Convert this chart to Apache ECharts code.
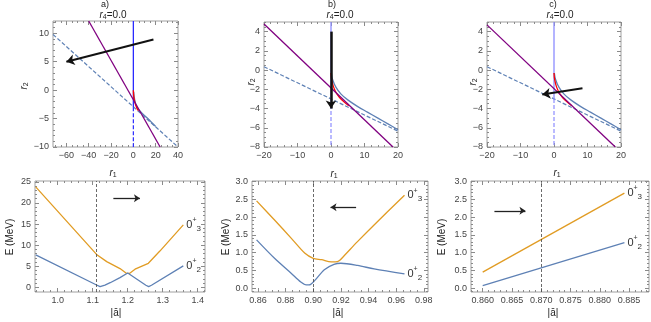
<!DOCTYPE html>
<html>
<head>
<meta charset="utf-8">
<script src="https://cdn.jsdelivr.net/npm/echarts@6/dist/echarts.min.js"></script>
<style>
html, body { margin: 0; padding: 0; background: #fff; }
#chart { width: 651px; height: 322px; }
</style>
</head>
<body>
<div id="chart"></div>
<script>
// ---- top row: r1 / r2 plane ----
var purpleA = [[-40, 12.17], [24, -10]];
var dashA = [[-72, 9.8], [40, -10]];
var vSolidA = [[0, 12.17], [0, -3]];
var vDashA = [[0, -3], [0, -10]];
var curveA = [[0.3, -0.3], [1.5, -2], [4, -3.2], [8, -4.1], [12, -4.8], [16, -5.6], [20, -6.4]];
var redA = [[0, 0], [0.3, -1], [1.2, -2], [2.8, -3], [4.5, -3.6]];
var arrowA = [[18, 8.9], [-60, 5.0]];

var purpleB = [[-20, 4.8], [18.5, -8]];
var dashB = [[-20, 0.35], [20, -6.35]];
var vSolidB = [[0, 5], [0, -3]];
var vDashB = [[0, -3], [0, -8]];
var curveB = [[0.1, -0.3], [0.5, -1.0], [1.5, -1.8], [3, -2.5], [5, -3.1], [8, -3.8], [11, -4.4], [14, -5.0], [17, -5.6], [20, -6.2]];
var redB = [[0, -0.3], [0.2, -1], [0.8, -1.8], [1.8, -2.5], [3.2, -3.1], [5.3, -3.7]];
var arrowB = [[0, 4], [0, -4]];

var purpleC = [[-20, 4.7], [18.3, -8]];
var dashC = [[-20, 0.35], [20, -6.35]];
var vSolidC = [[0, 5], [0, -3]];
var vDashC = [[0, -3], [0, -8]];
var curveC = [[0.1, -0.3], [0.5, -1.0], [1.5, -1.8], [3, -2.5], [5, -3.1], [8, -3.8], [11, -4.4], [14, -5.0], [17, -5.6], [20, -6.2]];
var redC = [[0, -0.3], [0.2, -1], [0.8, -1.8], [1.8, -2.5], [3.2, -3.1], [5.3, -3.7]];
var arrowC = [[8.5, -1.9], [-3.5, -2.55]];

// ---- bottom row: energies vs |a| ----
var orange1 = [[0.937, 23.8], [1.111, 7.8], [1.14, 6.1], [1.178, 4.45], [1.197, 3.3], [1.2, 3.1], [1.205, 3.3], [1.221, 4.3], [1.259, 5.7], [1.292, 8.6], [1.359, 14.8]];
var blue1 = [[0.937, 7.7], [1.111, 0.55], [1.121, 0.16], [1.135, 0.55], [1.15, 1.1], [1.178, 2.3], [1.2, 3.4], [1.252, 0.5], [1.26, 0.16], [1.268, 0.5], [1.359, 5.1]];
var cut1 = 1.111;
var arrow1 = [[1.159, 21.1], [1.235, 21.1]];

var orange2 = [[0.859, 2.46], [0.872, 1.92], [0.884, 1.41], [0.894, 0.98], [0.9, 0.84], [0.906, 0.8], [0.913, 0.74], [0.916, 0.74], [0.919, 0.78], [0.923, 0.94], [0.932, 1.31], [0.944, 1.78], [0.966, 2.62]];
var blue2 = [[0.859, 1.36], [0.872, 0.84], [0.884, 0.42], [0.891, 0.17], [0.895, 0.09], [0.897, 0.09], [0.901, 0.21], [0.908, 0.52], [0.915, 0.67], [0.92, 0.7], [0.932, 0.64], [0.944, 0.54], [0.966, 0.4]];
var cut2 = 0.9005;
var arrow2 = [[0.931, 2.28], [0.9125, 2.28]];

var orange3 = [[0.86, 0.45], [0.8842, 2.68]];
var blue3 = [[0.86, 0.07], [0.8842, 1.28]];
var cut3 = 0.8707;
var arrow3 = [[0.862, 2.18], [0.8673, 2.18]];

// tick labels
var topAxTicks = [-60, -40, -20, 0, 20, 40];
var topAyTicks = [-10, -5, 0, 5, 10];
var topBCxTicks = [-20, -10, 0, 10, 20];
var topBCyTicks = [-8, -6, -4, -2, 0, 2, 4];
var bot1xTicks = [1.0, 1.1, 1.2, 1.3, 1.4];
var bot1yTicks = [0, 5, 10, 15, 20, 25];
var bot2xTicks = [0.86, 0.88, 0.90, 0.92, 0.94, 0.96, 0.98];
var bot3xTicks = [0.860, 0.865, 0.870, 0.875, 0.880, 0.885];
var bot23yTicks = [0, 0.5, 1.0, 1.5, 2.0, 2.5, 3.0];

var FONT = 'Liberation Sans';
var STEEL = '#5e81b5', ORANGE = '#e19c24', PURPLE = '#800080';

var grids = [
  {left: 53, top: 21, width: 125, height: 126},
  {left: 264, top: 22, width: 134, height: 125},
  {left: 487, top: 22, width: 134, height: 125},
  {left: 35, top: 181, width: 170, height: 111},
  {left: 252, top: 181, width: 176, height: 111},
  {left: 471, top: 181, width: 178, height: 111}
];
var panels = [
  {x: [-72, 40], y: [-10, 12.17], xt: topAxTicks, yt: topAyTicks, xs: 5, ys: 1, xd: 0, yd: 0},
  {x: [-20, 20], y: [-8, 5], xt: topBCxTicks, yt: topBCyTicks, xs: 2, ys: 0.5, xd: 0, yd: 0},
  {x: [-20, 20], y: [-8, 5], xt: topBCxTicks, yt: topBCyTicks, xs: 2, ys: 0.5, xd: 0, yd: 0},
  {x: [0.935, 1.421], y: [-1.1, 25.2], xt: bot1xTicks, yt: bot1yTicks, xs: 0.02, ys: 1, xd: 1, yd: 0},
  {x: [0.8557, 0.983], y: [-0.11, 3.02], xt: bot2xTicks, yt: bot23yTicks, xs: 0.005, ys: 0.1, xd: 2, yd: 1},
  {x: [0.858, 0.8884], y: [-0.11, 3.02], xt: bot3xTicks, yt: bot23yTicks, xs: 0.001, ys: 0.1, xd: 3, yd: 1}
];

function fmt(v, d) {
  var s = v.toFixed(d);
  return v < 0 ? '\u2212' + s.slice(1) : s;
}
function minorTicks(min, max, step) {
  var out = [];
  var k0 = Math.ceil(min / step - 1e-6), k1 = Math.floor(max / step + 1e-6);
  for (var k = k0; k <= k1; k++) out.push(+(k * step).toFixed(6));
  return out;
}
function axisDef(gi, range, position, values, len, labels, dec) {
  return {
    type: 'value', gridIndex: gi, min: range[0], max: range[1], position: position,
    splitLine: {show: false},
    axisLine: {show: false, onZero: false},
    axisTick: {show: true, inside: true, length: len, customValues: values, lineStyle: {color: '#8a8a8a', width: 1}},
    axisLabel: {show: labels, customValues: values, margin: 4, fontSize: 9, color: '#444', fontFamily: FONT,
      formatter: function (v) { return fmt(v, dec); }}
  };
}
function makeAxes(dim, gi, range, ticks, step, dec) {
  var minor = minorTicks(range[0], range[1], step);
  var pos = dim === 'x' ? ['bottom', 'top'] : ['left', 'right'];
  return [
    axisDef(gi, range, pos[0], ticks, 4, true, dec),
    axisDef(gi, range, pos[0], minor, 2, false, dec),
    axisDef(gi, range, pos[1], ticks, 4, false, dec),
    axisDef(gi, range, pos[1], minor, 2, false, dec)
  ];
}

var xAxes = [], yAxes = [];
panels.forEach(function (p, gi) {
  xAxes = xAxes.concat(makeAxes('x', gi, p.x, p.xt, p.xs, p.xd));
  yAxes = yAxes.concat(makeAxes('y', gi, p.y, p.yt, p.ys, p.yd));
});

function line(gi, data, color, width, dash, smooth) {
  return {
    type: 'line', xAxisIndex: gi * 4, yAxisIndex: gi * 4, data: data, symbol: 'none',
    smooth: smooth || false, silent: true,
    lineStyle: {color: color, width: width, type: dash || 'solid'}
  };
}
function arrow(gi, pts, color, width, size) {
  return {
    type: 'line', xAxisIndex: gi * 4, yAxisIndex: gi * 4, data: pts, symbol: 'none', silent: true,
    lineStyle: {opacity: 0}, z: 10,
    markLine: {
      silent: true, symbol: ['none', 'arrow'], symbolSize: size, label: {show: false},
      lineStyle: {color: color, width: width, type: 'solid'}, emphasis: {disabled: true},
      data: [[{coord: pts[0]}, {coord: pts[1]}]]
    }
  };
}
function cutLine(s, x) {
  s.markLine = {
    silent: true, symbol: 'none', label: {show: false}, emphasis: {disabled: true},
    lineStyle: {color: '#444', width: 0.8, type: [3, 2]},
    data: [{xAxis: x}]
  };
  return s;
}
function stateLabel(s, n) {
  s.endLabel = {
    show: true, distance: 3, formatter: '{a|0}{b|+}{c|' + n + '}',
    rich: {
      a: {fontSize: 11, color: '#333', fontFamily: FONT, lineHeight: 16},
      b: {fontSize: 7, color: '#333', fontFamily: FONT, verticalAlign: 'top'},
      c: {fontSize: 8, color: '#333', fontFamily: FONT, verticalAlign: 'bottom'}
    }
  };
  return s;
}

var series = [];
var tops = [
  [purpleA, dashA, vSolidA, vDashA, curveA, redA, arrowA, '#2a2aff'],
  [purpleB, dashB, vSolidB, vDashB, curveB, redB, arrowB, '#8c8cff'],
  [purpleC, dashC, vSolidC, vDashC, curveC, redC, arrowC, '#8c8cff']
];
tops.forEach(function (t, gi) {
  series.push(line(gi, t[1], STEEL, 1.2, [4, 2]));
  series.push(line(gi, t[3], t[7], 1.2, [4, 2]));
  series.push(line(gi, t[2], t[7], 1.3));
  series.push(line(gi, t[4], STEEL, 1.3, null, 0.4));
  series.push(line(gi, t[5], '#ff0000', 1.3, null, 0.4));
  series.push(line(gi, t[0], PURPLE, 1.3));
  series.push(arrow(gi, t[6], '#111', gi === 1 ? 2.5 : 2, 8));
});
var bots = [
  [orange1, blue1, cut1, arrow1, false],
  [orange2, blue2, cut2, arrow2, 0.3],
  [orange3, blue3, cut3, arrow3, false]
];
bots.forEach(function (b, i) {
  var gi = i + 3;
  series.push(stateLabel(line(gi, b[0], ORANGE, 1.3, null, b[4]), 3));
  series.push(cutLine(stateLabel(line(gi, b[1], STEEL, 1.3, null, b[4]), 2), b[2]));
  series.push(arrow(gi, b[3], '#222', 1.3, 6));
});

function txt(x, y, text, size, rot, rich) {
  return {
    type: 'text', x: x, y: y, rotation: rot || 0, silent: true,
    style: {
      text: text, x: 0, y: 0, fill: '#222', font: size + 'px ' + FONT,
      align: 'center', verticalAlign: 'middle', textAlign: 'center', textVerticalAlign: 'middle',
      rich: rich
    }
  };
}
var subRich = {
  i: {fontSize: 10, fontStyle: 'italic', fontFamily: FONT, fill: '#222', color: '#222'},
  s: {fontSize: 7, fontFamily: FONT, verticalAlign: 'bottom', fill: '#222', color: '#222', padding: [4, 0, 0, 0]},
  n: {fontSize: 10, fontFamily: FONT, fill: '#222', color: '#222'}
};
var graphics = [
  txt(105, 5, 'a)', 9), txt(332, 5, 'b)', 9), txt(553, 5, 'c)', 9),
  txt(113, 15, '{i|r}{s|4}{n|=0.0}', 10, 0, subRich),
  txt(340, 15, '{i|r}{s|4}{n|=0.0}', 10, 0, subRich),
  txt(560, 15, '{i|r}{s|4}{n|=0.0}', 10, 0, subRich),
  txt(24, 86, '{i|r}{s|2}', 10, Math.PI / 2, subRich),
  txt(251, 82, '{i|r}{s|2}', 10, Math.PI / 2, subRich),
  txt(473, 82, '{i|r}{s|2}', 10, Math.PI / 2, subRich),
  txt(113, 173, '{i|r}{s|1}', 10, 0, subRich),
  txt(334, 174, '{i|r}{s|1}', 10, 0, subRich),
  txt(557, 173, '{i|r}{s|1}', 10, 0, subRich),
  txt(10, 237, 'E (MeV)', 10, Math.PI / 2),
  txt(226, 237, 'E (MeV)', 10, Math.PI / 2),
  txt(442, 237, 'E (MeV)', 10, Math.PI / 2),
  txt(116, 313, '|\u0101|', 10), txt(338, 313, '|\u0101|', 10), txt(553, 313, '|\u0101|', 10)
];

var chart = echarts.init(document.getElementById('chart'), null, {renderer: 'canvas'});
chart.setOption({
  animation: false,
  backgroundColor: '#fff',
  textStyle: {fontFamily: FONT},
  grid: grids.map(function (g) {
    return {left: g.left, top: g.top, width: g.width, height: g.height, show: true,
      borderColor: '#a0a0a0', borderWidth: 1, backgroundColor: 'transparent',
      containLabel: false, outerBoundsMode: 'none'};
  }),
  xAxis: xAxes,
  yAxis: yAxes,
  series: series,
  graphic: graphics
});
</script>
</body>
</html>
